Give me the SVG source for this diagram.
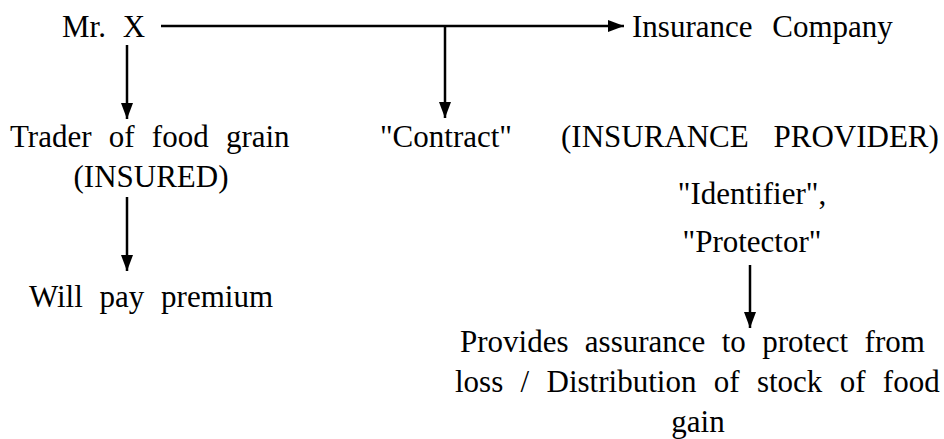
<svg xmlns="http://www.w3.org/2000/svg" width="944" height="439" viewBox="0 0 944 439">
<style>
text{font-size:31px;fill:#000}
.c{text-anchor:middle}
.ln{stroke:#000;stroke-width:2.5;fill:none}
</style>
<defs>
<marker id="ah" markerUnits="userSpaceOnUse" markerWidth="16" markerHeight="12" refX="16" refY="6" orient="auto">
<path d="M0,0 L16,6 L0,12 z" fill="#000"/>
</marker>
</defs>
<rect width="944" height="439" fill="#fff"/>
<g id="connectors">
<line class="ln" x1="161" y1="26" x2="624" y2="26" marker-end="url(#ah)"/>
<line class="ln" x1="445" y1="26" x2="445" y2="118" marker-end="url(#ah)"/>
<line class="ln" x1="127" y1="45" x2="127" y2="119" marker-end="url(#ah)"/>
<line class="ln" x1="127" y1="197" x2="127" y2="271" marker-end="url(#ah)"/>
<line class="ln" x1="750" y1="265" x2="750" y2="328" marker-end="url(#ah)"/>
</g>
<g font-family="Liberation Serif, DejaVu Serif, serif">
<g id="mrx"><text x="62" y="37" style="word-spacing:9px">Mr. X</text></g>
<g id="company"><text x="632" y="37" style="word-spacing:12px">Insurance Company</text></g>
<g id="trader">
<text x="10" y="147" style="word-spacing:9.5px">Trader of food grain</text>
<text x="151" y="187" class="c">(INSURED)</text>
</g>
<g id="contract"><text x="446" y="147" class="c">"Contract"</text></g>
<g id="provider">
<text x="561" y="147" style="word-spacing:17px">(INSURANCE PROVIDER)</text>
<text x="752" y="204" class="c">"Identifier",</text>
<text x="752" y="252" class="c">"Protector"</text>
</g>
<g id="premium"><text x="151" y="307" class="c" style="word-spacing:9px">Will pay premium</text></g>
<g id="assurance">
<text x="460" y="352" style="word-spacing:8.6px">Provides assurance to protect from</text>
<text x="455" y="392" style="word-spacing:9.6px">loss / Distribution of stock of food</text>
<text x="698" y="432" class="c">gain</text>
</g>
</g>
</svg>
